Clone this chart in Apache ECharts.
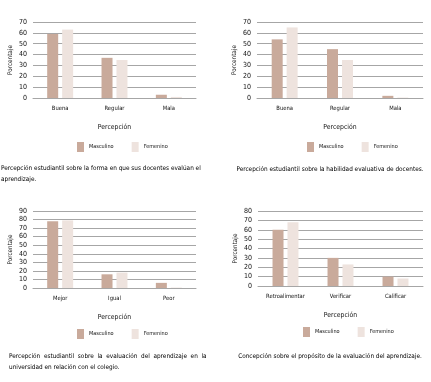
<!DOCTYPE html>
<html>
<head>
<meta charset="utf-8">
<script src="https://cdn.jsdelivr.net/npm/echarts@6/dist/echarts.min.js"></script>
<style>
  html, body { margin: 0; padding: 0; background: #fff; }
  #chart { width: 431px; height: 382px; }
</style>
</head>
<body>
<div id="chart"></div>
<script>
const SERIES_NAMES = ['Masculino', 'Femenino'];

const cat1 = ['Buena', 'Regular', 'Mala'];
const masc1 = [59, 37, 3];
const fem1 = [63, 35, 1];

const cat2 = ['Buena', 'Regular', 'Mala'];
const masc2 = [54, 45, 2];
const fem2 = [65, 35, 0.4];

const cat3 = ['Mejor', 'Igual', 'Peor'];
const masc3 = [78, 16, 6];
const fem3 = [79, 18, 0.5];

const cat4 = ['Retroalimentar', 'Verificar', 'Calificar'];
const masc4 = [60, 30, 10];
const fem4 = [68, 23, 8];

const yMax = [70, 70, 90, 80];
const xNames = ['Percepción', 'Percepción', 'Percepción', 'Percepción'];
const captions = [
  'Percepción estudiantil sobre la forma en que sus docentes evalúan el\naprendizaje.',
  'Percepción estudiantil sobre la habilidad evaluativa de docentes.',
  'Percepción  estudiantil  sobre  la  evaluación  del  aprendizaje  en  la\nuniversidad en relación con el colegio.',
  'Concepción sobre el propósito de la evaluación del aprendizaje.'
];

// pick a narrow font if one is installed
function hasFont(name) {
  const c = document.createElement('canvas').getContext('2d');
  const s = 'Percepción estudiantil mmmwwwiii';
  c.font = '20px monospace';
  const a = c.measureText(s).width;
  c.font = '20px "' + name + '", monospace';
  const b = c.measureText(s).width;
  c.font = '20px serif';
  const d = c.measureText(s).width;
  c.font = '20px "' + name + '", serif';
  const e = c.measureText(s).width;
  return a !== b || d !== e;
}
let FONT = '"Liberation Sans", sans-serif';
let capSize = 6.3;
if (hasFont('Liberation Sans Narrow')) {
  FONT = '"Liberation Sans Narrow", sans-serif';
  capSize = 7.6;
} else if (hasFont('DejaVu Sans Condensed')) {
  FONT = '"DejaVu Sans Condensed", sans-serif';
  capSize = 6.4;
}

const COLORS = ['#c9aa9b', '#eee3de'];

const cats = [cat1, cat2, cat3, cat4];
const masc = [masc1, masc2, masc3, masc4];
const fem = [fem1, fem2, fem3, fem4];

const grids = [
  { left: 33, top: 22, width: 163, height: 76 },
  { left: 257, top: 22, width: 166, height: 76 },
  { left: 33, top: 211, width: 163, height: 77 },
  { left: 258, top: 211, width: 165, height: 75 }
];
const legendPos = [
  { left: 77, top: 142 },
  { left: 307, top: 142 },
  { left: 77, top: 329 },
  { left: 303, top: 327 }
];

const chart = echarts.init(document.getElementById('chart'));
const option = {
  backgroundColor: '#fff',
  animation: false,
  color: COLORS,
  textStyle: { fontFamily: FONT },
  grid: grids,
  xAxis: [],
  yAxis: [],
  legend: [],
  title: [],
  series: []
};

for (let i = 0; i < 4; i++) {
  option.xAxis.push({
    gridIndex: i,
    type: 'category',
    data: cats[i],
    name: xNames[i],
    nameLocation: 'middle',
    nameGap: 26,
    nameTextStyle: { fontSize: 6.8, color: '#111', fontFamily: FONT },
    axisTick: { show: false },
    axisLine: { lineStyle: { color: '#a6a6a6' } },
    axisLabel: { interval: 0, fontSize: 5.8, color: '#111', margin: 7, fontFamily: FONT }
  });
  option.yAxis.push({
    gridIndex: i,
    type: 'value',
    min: 0,
    max: yMax[i],
    interval: 10,
    name: 'Porcentaje',
    nameLocation: 'middle',
    nameRotate: 90,
    nameGap: 20,
    nameTextStyle: { fontSize: 6.3, color: '#111', fontFamily: FONT },
    axisLine: { show: false },
    axisTick: { show: false },
    axisLabel: { fontSize: 7, color: '#111', margin: 6, fontFamily: FONT },
    splitLine: { lineStyle: { color: '#a6a6a6', width: 1 } }
  });
  option.legend.push({
    data: SERIES_NAMES,
    left: legendPos[i].left,
    top: legendPos[i].top,
    padding: 0,
    itemWidth: 7,
    itemHeight: 10,
    itemGap: 18,
    icon: 'rect',
    textStyle: { fontSize: 5.5, color: '#111', fontFamily: FONT }
  });
  option.series.push({
    name: SERIES_NAMES[0],
    type: 'bar',
    xAxisIndex: i,
    yAxisIndex: i,
    data: masc[i],
    barWidth: 11,
    barGap: '36%'
  });
  option.series.push({
    name: SERIES_NAMES[1],
    type: 'bar',
    xAxisIndex: i,
    yAxisIndex: i,
    data: fem[i],
    barWidth: 11,
    barGap: '36%'
  });
}

const capStyle = { fontSize: capSize, fontWeight: 'normal', color: '#000', lineHeight: 11, fontFamily: FONT };
option.title = [
  { text: captions[0], left: 1, top: 163, padding: 0, textStyle: capStyle },
  { text: captions[1], left: 330, textAlign: 'center', top: 164, padding: 0, textStyle: capStyle },
  { text: captions[2], left: 9, top: 351, padding: 0, textStyle: capStyle },
  { text: captions[3], left: 330, textAlign: 'center', top: 351, padding: 0, textStyle: capStyle }
];

chart.setOption(option);
</script>
</body>
</html>
